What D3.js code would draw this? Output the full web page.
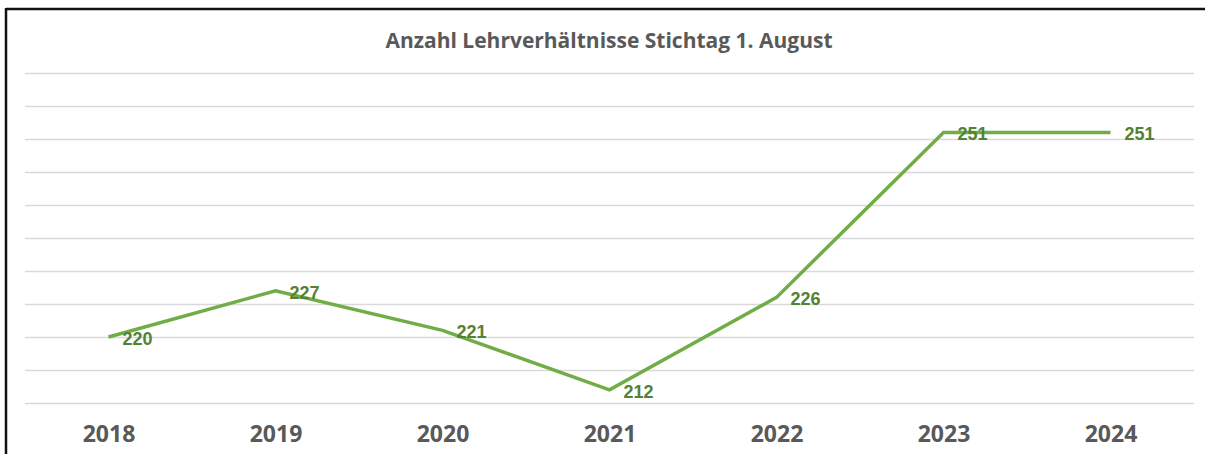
<!DOCTYPE html>
<html>
<head>
<meta charset="utf-8">
<script src="https://cdn.jsdelivr.net/npm/d3@7"></script>
<style>
  html, body { margin: 0; padding: 0; background: #fff; }
</style>
</head>
<body>
<div id="chart"></div>
<script>
const years = ["2018", "2019", "2020", "2021", "2022", "2023", "2024"];
const counts = [220, 227, 221, 212, 226, 251, 251];
const yTicks = [210, 215, 220, 225, 230, 235, 240, 245, 250, 255, 260];
const chartTitle = "Anzahl Lehrverhältnisse Stichtag 1. August";

const width = 1205, height = 454;

const svg = d3.select("#chart").append("svg")
    .attr("width", width)
    .attr("height", height);

// frame (only top and left visible in the cropped screenshot)
svg.append("line")
    .attr("x1", 6).attr("x2", width).attr("y1", 9).attr("y2", 9)
    .attr("stroke", "#111").attr("stroke-width", 2.5);
svg.append("line")
    .attr("x1", 6).attr("x2", 6).attr("y1", 8).attr("y2", height)
    .attr("stroke", "#111").attr("stroke-width", 2.5);

let x = d3.scalePoint()
    .domain(years)
    .range([25, 1194])
    .padding(0.5);

let y = d3.scaleLinear()
    .domain([210, 260])
    .range([403, 73]);

// gridlines
svg.append("g")
    .selectAll("line")
    .data(yTicks)
    .enter()
    .append("line")
    .attr("x1", 25).attr("x2", 1194)
    .attr("y1", d => Math.round(y(d)) + 0.5)
    .attr("y2", d => Math.round(y(d)) + 0.5)
    .attr("stroke", "#d9d9d9")
    .attr("stroke-width", 1.5);

// title
svg.append("text")
    .attr("x", 609).attr("y", 48)
    .attr("text-anchor", "middle")
    .style("font-family", "'Open Sans', sans-serif")
    .style("font-weight", "bold")
    .style("font-size", "21px")
    .attr("fill", "#595959")
    .text(chartTitle);

// x axis labels
let xAxis = d3.axisBottom(x).tickSize(0).tickPadding(0);
let gx = svg.append("g")
    .attr("transform", "translate(0,426)")
    .call(xAxis);
gx.select(".domain").remove();
gx.selectAll("text")
    .style("font-family", "'Open Sans', sans-serif")
    .style("font-weight", "bold")
    .style("font-size", "23px")
    .attr("fill", "#595959");

// line
let line = d3.line()
    .x((d, i) => x(years[i]))
    .y(d => y(d));

svg.append("path")
    .datum(counts)
    .attr("fill", "none")
    .attr("stroke", "#70ad47")
    .attr("stroke-width", 3.5)
    .attr("stroke-linejoin", "miter")
    .attr("d", line);

// data labels
svg.append("g")
    .selectAll("text")
    .data(counts)
    .enter()
    .append("text")
    .attr("x", (d, i) => x(years[i]) + 14)
    .attr("y", d => y(d) + 8)
    .style("font-family", "'Liberation Sans', Arial, sans-serif")
    .style("font-weight", "bold")
    .style("font-size", "18px")
    .attr("fill", "#548235")
    .text(d => d);
</script>
</body>
</html>
